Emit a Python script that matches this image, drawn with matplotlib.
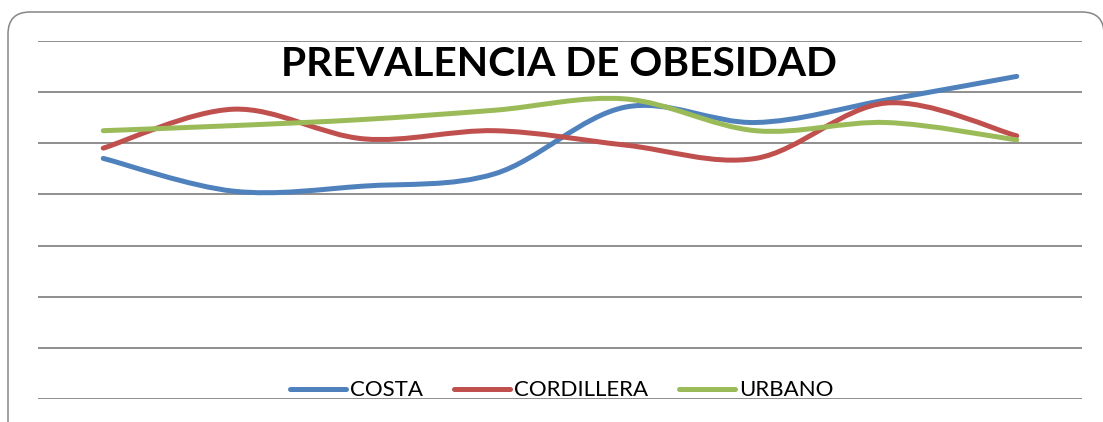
# Prevalencia de obesidad por región (Costa, Cordillera, Urbano)

import numpy as np
import matplotlib.pyplot as plt
from matplotlib.path import Path
from matplotlib.patches import PathPatch, FancyBboxPatch
from matplotlib.lines import Line2D
from matplotlib.transforms import IdentityTransform

# Datos (escala 0-35)
categorias = ['1', '2', '3', '4', '5', '6', '7', '8']
costa = [23.5, 20.3, 20.8, 22.0, 28.5, 27.0, 29.2, 31.5]
cordillera = [24.5, 28.3, 25.4, 26.2, 24.8, 23.5, 28.9, 25.7]
urbano = [26.2, 26.7, 27.3, 28.2, 29.3, 26.2, 27.0, 25.3]

series = {'COSTA': costa, 'CORDILLERA': cordillera, 'URBANO': urbano}
colores = {'COSTA': '#4F81BD', 'CORDILLERA': '#C0504D', 'URBANO': '#9BBB59'}

plt.rcParams['font.family'] = ['Lato', 'DejaVu Sans']


def curva_suave(x, y):
    # Bezier-Kurve wie Excel "Linie glätten"
    pts = np.column_stack([x, y])
    verts = [pts[0]]
    codes = [Path.MOVETO]
    n = len(pts)
    for i in range(n - 1):
        p0 = pts[i - 1] if i > 0 else pts[i]
        p1 = pts[i]
        p2 = pts[i + 1]
        p3 = pts[i + 2] if i + 2 < n else pts[i + 1]
        c1 = p1 + (p2 - p0) / 6
        c2 = p2 - (p3 - p1) / 6
        verts += [c1, c2, p2]
        codes += [Path.CURVE4] * 3
    return Path(verts, codes)


W, H = 1103, 422
fig = plt.figure(figsize=(W / 100, H / 100), dpi=100)
ax = fig.add_axes([38 / W, 1 - 399.3 / H, (1082 - 38) / W, (399.3 - 40.5) / H])

x = np.arange(len(categorias))
for nombre, valores in series.items():
    patch = PathPatch(curva_suave(x, valores), fill=False, edgecolor=colores[nombre],
                      lw=3.6, capstyle='round', joinstyle='round', zorder=3)
    ax.add_patch(patch)

ax.set_xlim(-0.5, len(categorias) - 0.5)
ax.set_ylim(0, 35)
ax.set_yticks(np.arange(0, 36, 5))
ax.grid(axis='y', color='#868686', lw=1.3)
ax.set_axisbelow(True)
ax.tick_params(left=False, bottom=False, labelleft=False, labelbottom=False)
for s in ax.spines.values():
    s.set_visible(False)

# Titel
fig.text(559 / W, 1 - 65 / H, 'PREVALENCIA DE OBESIDAD', ha='center', va='center',
         fontsize=29.3, fontweight='bold')

# Legende
handles = [Line2D([], [], color=colores[n], lw=3.6, solid_capstyle='round') for n in series]
fig.legend(handles, list(series.keys()), loc='center', bbox_to_anchor=(562 / W, 1 - 390.5 / H),
           ncol=3, frameon=False, fontsize=16, handlelength=2.5, handletextpad=0.2,
           columnspacing=1.4, borderpad=0, borderaxespad=0)

# abgerundeter Rahmen
rahmen = FancyBboxPatch((8, -30), 1096, H - 12 + 30, boxstyle='round,pad=0,rounding_size=22',
                        transform=IdentityTransform(), fill=False, edgecolor='#868686', lw=1.1)
fig.patches.append(rahmen)

fig.savefig('out.png', dpi=100)
